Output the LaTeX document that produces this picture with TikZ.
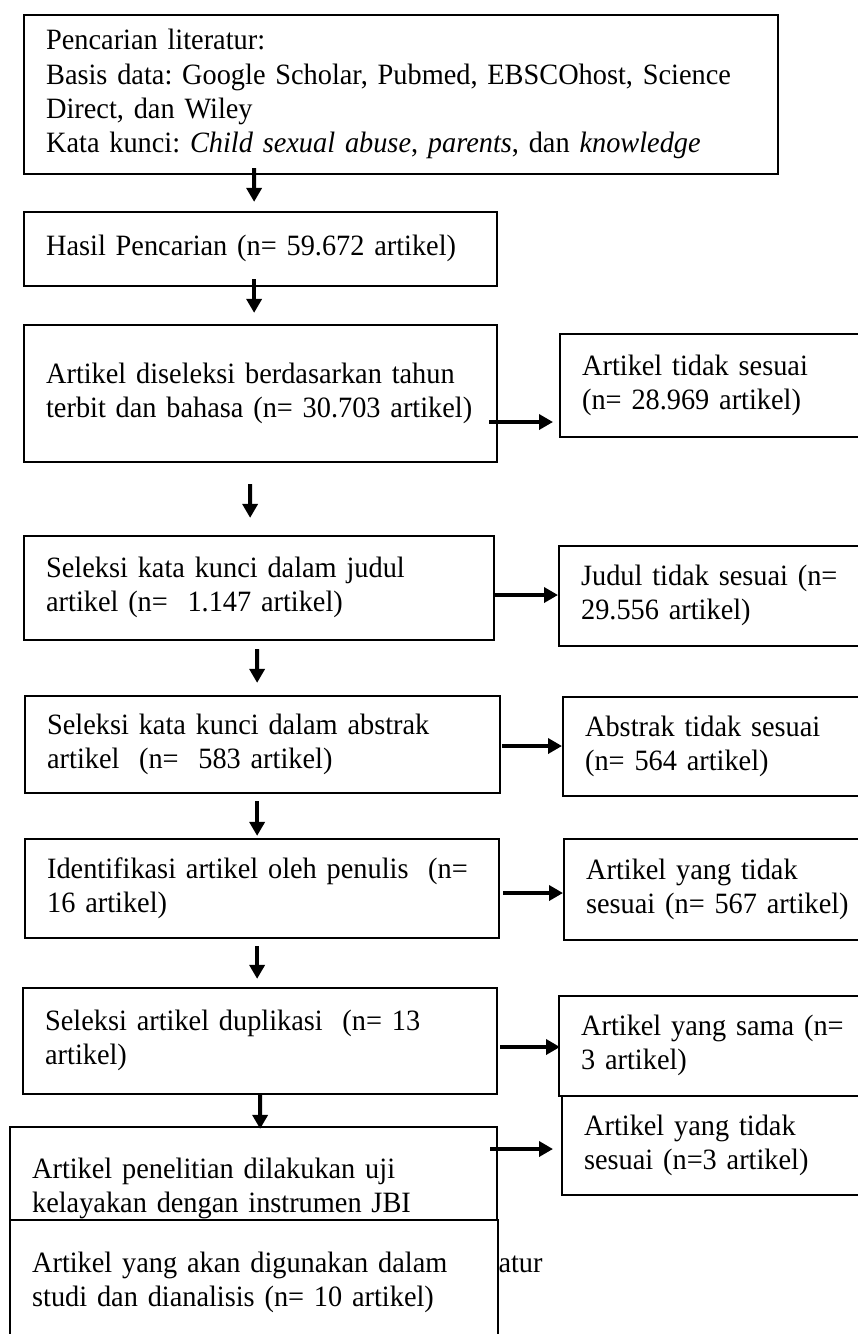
\documentclass[tikz,border=0pt]{standalone}
\usepackage{fontspec}
\setmainfont[FakeStretch=0.96]{Liberation Serif}
\usetikzlibrary{arrows.meta}
\frenchspacing
\newcommand{\boxlines}[1]{\begin{tabular}{@{}l@{}}#1\end{tabular}}

\begin{document}
\begin{tikzpicture}[
    x=0.4pt, y=-0.4pt,
    txt/.style={font=\fontsize{11.8}{13.7}\selectfont},
    box/.style={txt, rectangle, draw, line width=0.9pt, fill=white, anchor=west, align=left, inner xsep=8.8pt, inner ysep=0pt},
    arrow/.style={-{Triangle[length=5.6pt, width=6pt]}, line width=1.6pt}
]
\fill[white] (0,0) rectangle (858,1334);
\useasboundingbox (0,0) rectangle (858,1334);
\clip (0,0) rectangle (858,1334);

% main column
\node[box, text width=284pt, minimum height=63.6pt] (search) at (23,94.5) {\boxlines{Pencarian literatur:\\Basis data: Google Scholar, Pubmed, EBSCOhost, Science\\Direct, dan Wiley\\Kata kunci: \textit{Child sexual abuse}, \textit{parents}, dan \textit{knowledge}}};
\node[box, text width=171.6pt, minimum height=29.6pt] (hasil) at (23,249) {\boxlines{Hasil Pencarian (n= 59.672 artikel)}};
\node[box, text width=171.6pt, minimum height=54.8pt] (tahun) at (23,393.5) {\boxlines{Artikel diseleksi berdasarkan tahun\\terbit dan bahasa (n= 30.703 artikel)}};
\node[box, text width=170.4pt, minimum height=41.6pt] (judul) at (23,588) {\boxlines{Seleksi kata kunci dalam judul\\artikel (n=~ 1.147 artikel)}};
\node[box, text width=172.4pt, minimum height=38.8pt] (abstrak) at (24,744.5) {\boxlines{Seleksi kata kunci dalam abstrak\\artikel~ (n=~ 583 artikel)}};
\node[box, text width=172pt, minimum height=39.6pt] (penulis) at (24,888.5) {\boxlines{Identifikasi artikel oleh penulis~ (n=\\16 artikel)}};
\node[box, text width=172pt, minimum height=42.4pt] (duplikasi) at (22,1041) {\boxlines{Seleksi artikel duplikasi~ (n= 13\\artikel)}};
\node[box, text width=177.2pt, minimum height=49.2pt] (jbi) at (9,1188.5) {\boxlines{Artikel penelitian dilakukan uji\\kelayakan dengan instrumen JBI}};
\node[txt, anchor=base west, inner sep=0pt] (atur) at (498,1272) {atur};
\node[box, text width=177.6pt, minimum height=50.4pt] (final) at (9,1283) {\boxlines{Artikel yang akan digunakan dalam\\studi dan dianalisis (n= 10 artikel)}};

% excluded articles
\node[box, text width=106.8pt, minimum height=41.2pt] (outtahun) at (559,385.5) {\boxlines{Artikel tidak sesuai\\(n= 28.969 artikel)}};
\node[box, text width=107.2pt, minimum height=40pt] (outjudul) at (558,596) {\boxlines{Judul tidak sesuai (n=\\29.556 artikel)}};
\node[box, text width=105.6pt, minimum height=39.6pt] (outabstrak) at (562,746.5) {\boxlines{Abstrak tidak sesuai\\(n= 564 artikel)}};
\node[box, text width=105.2pt, minimum height=40.4pt] (outpenulis) at (563,889.5) {\boxlines{Artikel yang tidak\\sesuai (n= 567 artikel)}};
\node[box, text width=107.2pt, minimum height=40pt] (outsama) at (558,1046) {\boxlines{Artikel yang sama (n=\\3 artikel)}};
\node[box, text width=106pt, minimum height=39.6pt] (outjbi) at (561,1145.5) {\boxlines{Artikel yang tidak\\sesuai (n=3 artikel)}};

% arrows down
\draw[arrow] ([shift={(-147,-7)}]search.south) -- ([shift={(-6.5,-9)}]hasil.north);
\draw[arrow] ([shift={(-6.5,-8)}]hasil.south) -- ([shift={(-6.5,-11)}]tahun.north);
\draw[arrow] ([shift={(-10.5,21)}]tahun.south) -- ([shift={(-9,-17)}]judul.north);
\draw[arrow] ([shift={(-2,8)}]judul.south) -- ([shift={(-5.5,-12)}]abstrak.north);
\draw[arrow] ([shift={(-5.5,7)}]abstrak.south) -- ([shift={(-5,-2)}]penulis.north);
\draw[arrow] ([shift={(-5,7)}]penulis.south) -- ([shift={(-3,-8)}]duplikasi.north);
\draw[arrow] (duplikasi.south) -- ([shift={(6.5,3)}]jbi.north);

% arrows right
\draw[arrow] ([shift={(-9,28.5)}]tahun.east) -- ([shift={(-6,36.5)}]outtahun.west);
\draw[arrow] ([shift={(0,7)}]judul.east) -- ([shift={(0,-1)}]outjudul.west);
\draw[arrow] ([shift={(1,1.5)}]abstrak.east) -- ([shift={(0,-0.5)}]outabstrak.west);
\draw[arrow] ([shift={(3,4.5)}]penulis.east) -- ([shift={(0,3.5)}]outpenulis.west);
\draw[arrow] ([shift={(2,6)}]duplikasi.east) -- ([shift={(2,1)}]outsama.west);
\draw[arrow] ([shift={(-8,-39.5)}]jbi.east) -- ([shift={(-8,3.5)}]outjbi.west);

\end{tikzpicture}
\end{document}
